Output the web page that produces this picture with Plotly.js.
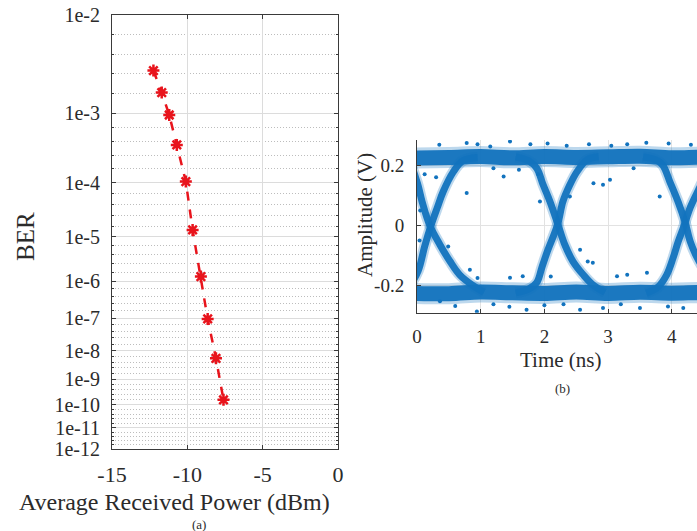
<!DOCTYPE html>
<html>
<head>
<meta charset="utf-8">
<script src="https://cdn.plot.ly/plotly-3.0.1.min.js"></script>
<style>
html, body { margin: 0; padding: 0; overflow: hidden; background: #ffffff; }
#chart { width: 745px; height: 531px; }
</style>
</head>
<body>
<div id="chart"></div>
<script>
// ---------- Panel (a): BER vs average received power ----------
const powerDbm = [-12.25, -11.7, -11.2, -10.7, -10.1, -9.65, -9.1, -8.65, -8.1, -7.6];
const berValues = [3.05e-3, 1.76e-3, 9.5e-4, 3.8e-4, 1.05e-4, 1.39e-5, 1.29e-6, 9.7e-8, 5.6e-9, 1.6e-10];
const berTickValues = [1e-2, 1e-3, 1e-4, 1e-5, 1e-6, 1e-7, 1e-8, 1e-9, 1e-10, 1e-11, 1e-12];
const berTickLabels = ["1e-2", "1e-3", "1e-4", "1e-5", "1e-6", "1e-7", "1e-8", "1e-9", "1e-10", "1e-11", "1e-12"];
const powerTicks = [-15, -10, -5, 0];

// ---------- Panel (b): eye diagram (hand-read band centrelines) ----------
const railHighT = [-0.2, 0.5, 1.0, 1.5, 2.0, 2.5, 3.0, 3.5, 4.0, 4.5, 5.2];
const railHighV = [0.224, 0.226, 0.229, 0.225, 0.229, 0.226, 0.228, 0.230, 0.225, 0.227, 0.225];
const railLowT = [-0.2, 0.5, 1.0, 1.5, 2.0, 2.5, 3.0, 3.5, 4.0, 4.5, 5.2];
const railLowV = [-0.225, -0.227, -0.221, -0.224, -0.226, -0.221, -0.226, -0.222, -0.225, -0.223, -0.225];

const rise1T = [-0.3, -0.12, 0.02, 0.12, 0.22, 0.32, 0.41, 0.57, 0.72, 0.95];
const rise1V = [-0.225, -0.2, -0.15, -0.07, 0.0, 0.06, 0.112, 0.178, 0.215, 0.226];
const fall1T = [-0.3, -0.12, 0.0, 0.08, 0.2, 0.36, 0.52, 0.67, 0.88, 1.05];
const fall1V = [0.226, 0.205, 0.145, 0.079, 0.0, -0.064, -0.12, -0.164, -0.2, -0.222];

const fall2T = [1.55, 1.75, 1.88, 1.98, 2.09, 2.21, 2.32, 2.45, 2.61, 2.76, 2.95];
const fall2V = [0.228, 0.215, 0.19, 0.135, 0.078, 0.005, -0.064, -0.12, -0.164, -0.197, -0.222];
const rise2T = [1.55, 1.75, 1.88, 1.96, 2.04, 2.21, 2.29, 2.40, 2.51, 2.67, 2.85];
const rise2V = [-0.224, -0.212, -0.19, -0.14, -0.09, 0.005, 0.079, 0.135, 0.178, 0.218, 0.228];

const fall3T = [3.55, 3.75, 3.86, 3.97, 4.10, 4.21, 4.29, 4.40, 4.55, 4.7, 4.9];
const fall3V = [0.228, 0.218, 0.2, 0.145, 0.078, 0.01, -0.054, -0.108, -0.16, -0.2, -0.224];
const rise3T = [3.6, 3.78, 3.92, 4.02, 4.10, 4.18, 4.29, 4.40, 4.55, 4.7, 4.9];
const rise3V = [-0.225, -0.205, -0.164, -0.108, -0.054, -0.008, 0.06, 0.11, 0.17, 0.21, 0.226];

const strayT = [0.78, 1.36, 1.93, 2.40, 2.77, 2.92, 3.03, 3.81, 0.49, 0.83, 1.46, 1.66, 2.56, 2.68, 2.76, 3.14, 3.30, 3.61,
  1.2, 1.6, 3.4, 2.1, 0.95, 1.9, 0.3, 0.05, 0.04, 0.12,
  0.78, 0.95, 1.46, 1.78, 2.05, 2.35, 2.7, 3.05, 3.3, 3.6, 3.95, 4.3, 0.35, 1.15,
  0.36, 0.94, 1.2, 1.72, 2.0, 2.56, 2.92, 3.2, 3.5, 3.94, 4.18, 0.6, 1.45, 2.3, 4.45];
const strayV = [0.108, 0.163, 0.08, 0.096, 0.14, 0.135, 0.152, 0.096, -0.07, -0.147, -0.174, -0.169, -0.081, -0.12, -0.124, -0.169, -0.164, -0.157,
  0.19, 0.185, 0.19, -0.17, -0.175, 0.17, 0.16, 0.05, -0.05, 0.17,
  0.274, 0.27, 0.279, 0.27, 0.272, 0.265, 0.27, 0.265, 0.27, 0.275, 0.272, 0.268, 0.268, 0.262,
  -0.252, -0.286, -0.262, -0.28, -0.265, -0.28, -0.274, -0.262, -0.274, -0.269, -0.274, -0.268, -0.27, -0.262, -0.265];

const timeTicks = [0, 1, 2, 3, 4];
const ampTicks = [-0.2, 0, 0.2];
const ampTickLabels = ["-0.2", "0", "0.2"];

// ---------- helpers ----------
const berScale = b => Math.log10(-Math.log10(b));   // axis is linear in log10(-log10(BER))
const W = 745, H = 531;
const px = v => v / W;
const py = v => 1 - v / H;

const RED = '#E8141C';
const BLUE = '#1273BE';
const SERIF = 'Liberation Serif, Times New Roman, serif';
const TXT = '#2b2b2b';

const majorY = berTickValues.map(berScale);
const minorY = [];
for (let i = 0; i < majorY.length - 1; i++) {
  for (let k = 1; k <= 4; k++) minorY.push(majorY[i] + (majorY[i + 1] - majorY[i]) * k / 5);
}

const traces = [];
traces.push({
  x: powerDbm, y: berValues.map(berScale), xaxis: 'x', yaxis: 'y',
  mode: 'lines+markers', type: 'scatter',
  line: { color: RED, width: 2.5, dash: 'dash' },
  marker: { symbol: 'asterisk-open', size: 10, color: RED, line: { color: RED, width: 2.5 } },
  hoverinfo: 'skip', showlegend: false
});

function band(t, v, core, halo) {
  traces.push({ x: t, y: v, xaxis: 'x2', yaxis: 'y2', mode: 'lines', type: 'scatter',
    line: { color: BLUE, width: halo, shape: 'spline' }, opacity: 0.28, hoverinfo: 'skip', showlegend: false });
  traces.push({ x: t, y: v, xaxis: 'x2', yaxis: 'y2', mode: 'lines', type: 'scatter',
    line: { color: BLUE, width: core, shape: 'spline' }, opacity: 0.95, hoverinfo: 'skip', showlegend: false });
}
band(railHighT, railHighV, 15, 21);
band(railLowT, railLowV, 15, 21);
band(rise1T, rise1V, 7, 11);
band(fall1T, fall1V, 7, 11);
band(fall2T, fall2V, 7, 11);
band(rise2T, rise2V, 7, 11);
band(fall3T, fall3V, 7, 11);
band(rise3T, rise3V, 7, 11);
traces.push({ x: strayT, y: strayV, xaxis: 'x2', yaxis: 'y2', mode: 'markers', type: 'scatter',
  marker: { color: BLUE, size: 4 }, hoverinfo: 'skip', showlegend: false });

const axTickFontA = { family: SERIF, size: 20, color: TXT };
const axTickFontB = { family: SERIF, size: 19, color: TXT };

const layout = {
  width: W, height: H,
  margin: { l: 0, r: 0, t: 0, b: 0 },
  paper_bgcolor: '#ffffff', plot_bgcolor: '#ffffff',
  showlegend: false,
  xaxis: {
    domain: [px(112), px(338)], range: [-15, 0], anchor: 'y',
    tickmode: 'array', tickvals: powerTicks, ticktext: powerTicks.map(String),
    showgrid: true, gridcolor: '#dcdcdc', gridwidth: 1, zeroline: false,
    showline: true, linecolor: '#3a3a3a', linewidth: 1, mirror: 'ticks',
    ticks: 'inside', ticklen: 4, tickcolor: '#3a3a3a',
    tickfont: { family: SERIF, size: 22, color: TXT }, ticklabelstandoff: 6, fixedrange: true
  },
  yaxis: {
    domain: [1 - 449 / H, 1 - 15 / H], range: [berScale(1e-12), berScale(1e-2)], anchor: 'x',
    tickmode: 'array', tickvals: majorY, ticktext: berTickLabels,
    showgrid: true, gridcolor: '#dcdcdc', gridwidth: 1, zeroline: false,
    showline: true, linecolor: '#3a3a3a', linewidth: 1, mirror: 'ticks',
    ticks: 'inside', ticklen: 4, tickcolor: '#3a3a3a',
    tickfont: axTickFontA, ticklabelstandoff: 7,
    minor: { tickmode: 'array', tickvals: minorY, showgrid: true, griddash: '1px,2px', gridcolor: '#bdbdbd', gridwidth: 1, ticks: 'inside', ticklen: 2, tickcolor: '#3a3a3a' },
    fixedrange: true
  },
  xaxis2: {
    domain: [px(417), px(735.5)], range: [0, 5], anchor: 'y2',
    tickmode: 'array', tickvals: timeTicks, ticktext: timeTicks.map(String),
    showgrid: true, gridcolor: '#e2e2e2', zeroline: false,
    showline: true, linecolor: '#3a3a3a', linewidth: 1,
    ticks: 'inside', ticklen: 4, tickcolor: '#3a3a3a',
    tickfont: axTickFontB, ticklabelstandoff: 6, fixedrange: true
  },
  yaxis2: {
    domain: [1 - 312.7 / H, 1 - 140 / H], range: [-0.29, 0.284], anchor: 'x2',
    tickmode: 'array', tickvals: ampTicks, ticktext: ampTickLabels,
    showgrid: true, gridcolor: '#e2e2e2', zeroline: false,
    showline: true, linecolor: '#3a3a3a', linewidth: 1,
    ticks: 'inside', ticklen: 4, tickcolor: '#3a3a3a',
    tickfont: axTickFontB, ticklabelstandoff: 8, fixedrange: true
  },
  annotations: [
    { text: 'BER', x: px(25), y: py(237), xref: 'paper', yref: 'paper', showarrow: false, textangle: -90,
      xanchor: 'center', yanchor: 'middle', font: { family: SERIF, size: 25, color: TXT } },
    { text: 'Average Received Power (dBm)', x: px(174), y: py(502), xref: 'paper', yref: 'paper', showarrow: false,
      xanchor: 'center', yanchor: 'middle', font: { family: SERIF, size: 24, color: TXT } },
    { text: '(a)', x: px(199), y: py(524), xref: 'paper', yref: 'paper', showarrow: false,
      xanchor: 'center', yanchor: 'middle', font: { family: SERIF, size: 13, color: TXT } },
    { text: 'Amplitude (V)', x: px(365), y: py(215), xref: 'paper', yref: 'paper', showarrow: false, textangle: -90,
      xanchor: 'center', yanchor: 'middle', font: { family: SERIF, size: 21, color: TXT } },
    { text: 'Time (ns)', x: px(561), y: py(360), xref: 'paper', yref: 'paper', showarrow: false,
      xanchor: 'center', yanchor: 'middle', font: { family: SERIF, size: 21, color: TXT } },
    { text: '(b)', x: px(562), y: py(388), xref: 'paper', yref: 'paper', showarrow: false,
      xanchor: 'center', yanchor: 'middle', font: { family: SERIF, size: 13, color: TXT } }
  ]
};

Plotly.newPlot('chart', traces, layout, { displayModeBar: false, staticPlot: true });
</script>
</body>
</html>
